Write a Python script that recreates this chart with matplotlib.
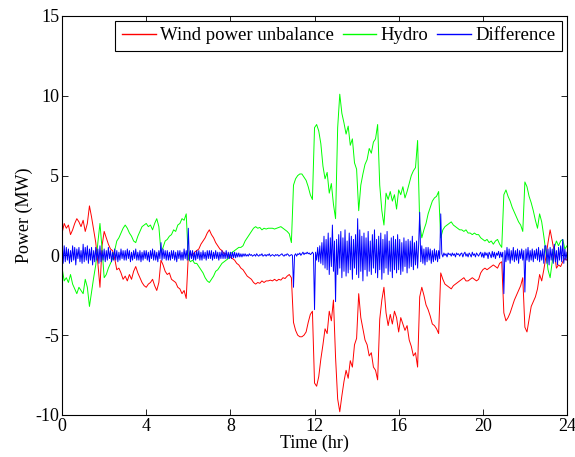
import numpy as np
import matplotlib.pyplot as plt

plt.rcParams['font.family'] = ['Liberation Serif', 'DejaVu Serif']
plt.rcParams['axes.unicode_minus'] = False

## time axis (hr), one sample every 0.1 hr for wind / hydro, 0.05 hr for difference
t_slow = np.arange(241) * 0.1
t_fast = np.arange(481) * 0.05

# wind power unbalance (MW)
wind = [
    1.4, 2.0, 1.7, 1.9, 1.3, 1.6, 2.0, 2.3, 2.1, 1.8,
    2.2, 1.5, 2.0, 3.1, 2.4, 1.6, 0.8, -0.5, -2.0, 0.6,
    1.5, 1.1, 0.7, 0.4, 0.3, -0.2, -0.9, -0.8, -1.1, -1.5,
    -1.3, -1.6, -1.2, -1.5, -1.0, -0.7, -1.1, -1.4, -1.7, -1.9,
    -2.0, -1.8, -1.7, -1.5, -1.9, -2.2, -1.7, -0.3, -0.6, -1.0,
    -1.2, -1.1, -1.5, -1.6, -1.7, -2.0, -2.1, -2.4, -2.2, -2.7,
    0.0, 0.1, 0.0, 0.2, 0.3, 0.4, 0.7, 0.9, 1.1, 1.4,
    1.6, 1.3, 1.1, 0.8, 0.6, 0.4, 0.3, 0.1, 0.1, -0.1,
    -0.1, -0.2, -0.3, -0.5, -0.6, -0.8, -0.9, -1.1, -1.3, -1.4,
    -1.5, -1.7, -1.8, -1.7, -1.75, -1.6, -1.7, -1.6, -1.6, -1.55,
    -1.6, -1.5, -1.6, -1.5, -1.55, -1.4, -1.45, -1.3, -1.2, -1.4,
    -4.2, -4.7, -5.0, -5.1, -5.1, -5.0, -4.8, -4.2, -3.7, -3.5,
    -8.0, -8.2, -7.6, -6.5, -5.6, -4.6, -4.9, -3.5, -4.1, -2.8,
    -6.4, -9.0, -9.8, -8.8, -7.9, -7.2, -7.7, -6.6, -7.0, -5.6,
    -5.2, -2.4, -3.9, -4.6, -5.3, -5.6, -6.3, -6.1, -7.0, -7.2,
    -7.8, -4.0, -2.8, -2.0, -3.6, -4.4, -3.7, -4.3, -3.5, -3.9,
    -4.8, -3.9, -4.3, -4.7, -4.4, -5.3, -5.7, -6.3, -6.1, -7.0,
    -2.6, -2.0, -2.5, -3.1, -3.4, -3.8, -4.3, -4.4, -4.6, -4.9,
    -1.1, -1.5, -1.8, -1.9, -2.0, -2.1, -1.9, -1.8, -1.7, -1.6,
    -1.5, -1.4, -1.6, -1.6, -1.5, -1.4, -1.5, -1.6, -1.5, -1.1,
    -0.9, -0.8, -0.9, -0.8, -0.7, -0.6, -0.7, -0.8, -0.5, -0.4,
    -3.6, -4.1, -3.9, -3.6, -3.2, -2.8, -2.5, -2.2, -1.9, -1.4,
    -4.5, -4.8, -4.0, -3.2, -2.9, -2.6, -2.1, -1.2, -1.6, -0.9,
    -0.1, 0.8, 1.6, 0.9, 0.2, -0.8, -0.6, -0.7, -0.4, -0.2,
    -0.3,
]

# hydro (MW)
hydro = [
    -0.8, -1.6, -1.4, -1.7, -1.2, -1.8, -2.1, -2.4, -2.0, -2.2,
    -2.4, -1.5, -2.0, -3.2, -2.3, -1.4, -0.6, 0.8, 2.0, 0.4,
    -1.4, -1.2, -0.8, -0.5, -0.2, 0.3, 0.9, 1.1, 1.4, 1.7,
    1.9, 1.7, 1.4, 1.2, 0.9, 0.8, 1.2, 1.5, 1.8, 1.9,
    2.0, 1.8, 1.9, 1.6, 2.0, 2.3, 1.8, 0.2, 0.5, 0.9,
    1.0, 1.2, 1.3, 1.6, 1.5, 1.9, 2.0, 2.3, 2.2, 2.6,
    -0.2, -0.4, -0.3, -0.5, -0.5, -0.7, -0.9, -1.1, -1.4, -1.6,
    -1.7, -1.5, -1.3, -1.0, -0.9, -0.7, -0.5, -0.4, -0.3, -0.2,
    0.1, 0.2, 0.3, 0.4, 0.5, 0.5, 0.6, 0.9, 1.1, 1.3,
    1.5, 1.7, 1.8, 1.7, 1.75, 1.6, 1.7, 1.65, 1.7, 1.7,
    1.7, 1.65, 1.7, 1.75, 1.8, 1.7, 1.6, 1.5, 1.35, 0.8,
    4.4, 4.8, 5.0, 5.1, 5.1, 4.9, 4.7, 4.3, 3.8, 3.5,
    8.0, 8.2, 7.8, 7.0, 5.6, 4.8, 5.2, 3.9, 4.5, 3.2,
    2.3, 8.0, 10.1, 8.9, 8.3, 7.6, 8.1, 6.9, 7.3, 5.8,
    5.4, 2.8, 4.4, 5.1, 5.7, 6.0, 6.7, 6.4, 7.1, 7.3,
    8.2, 4.4, 2.8, 1.9, 3.9, 3.5, 4.0, 3.4, 3.8, 2.9,
    4.1, 3.8, 4.3, 3.6, 4.0, 4.5, 5.0, 5.3, 5.5, 7.2,
    2.0, 1.1, 1.6, 2.0, 2.6, 3.0, 3.4, 3.6, 3.7, 4.0,
    1.1, 1.6, 1.8, 1.9, 2.0, 2.1, 1.9, 1.8, 1.7, 1.6,
    1.6, 1.5, 1.6, 1.4, 1.4, 1.3, 1.4, 1.3, 1.3, 1.1,
    1.0, 0.9, 1.0, 0.8, 0.9, 0.7, 0.9, 1.0, 0.7, 0.5,
    3.8, 4.1, 3.7, 3.4, 3.0, 2.7, 2.4, 2.1, 1.9, 1.5,
    4.6, 4.3, 3.7, 3.3, 2.8, 2.2, 1.7, 2.6, 2.1, 1.2,
    0.2, -0.9, -1.4, -0.4, 0.5, 0.9, 0.6, 0.9, 1.0, 0.4,
    0.6,
]

# difference (MW), 20 samples per hour
diff = [
    0.9, -0.5, 0.6, -0.4, 0.5, -0.3, 0.4, -0.5, 0.3, -0.4, 0.6, -0.3, 0.5, -0.6, 0.4, -0.2, 0.5, -0.4, 0.3, -0.5,
    0.7, -0.4, 0.5, -0.3, 0.6, -0.5, 0.4, -0.3, 0.5, -0.6, 0.3, -0.4, 0.5, -0.3, 0.4, -0.5, 0.6, -0.4, 0.3, -0.3,
    0.4, -0.4, 0.3, -0.3, 0.5, -0.2, 0.3, -0.4, 0.2, -0.3, 0.4, -0.3, 0.3, -0.4, 0.2, -0.3, 0.4, -0.2, 0.3, -0.3,
    0.3, -0.3, 0.4, -0.2, 0.3, -0.4, 0.2, -0.3, 0.3, -0.2, 0.4, -0.3, 0.2, -0.3, 0.3, -0.4, 0.2, -0.3, 0.3, -0.2,
    0.3, -0.3, 0.2, -0.4, 0.3, -0.2, 0.4, -0.3, 0.3, -0.3, 0.2, -0.4, 0.3, -0.2, 0.8, -0.3, 0.4, -0.2, 0.3, -0.3,
    0.3, -0.3, 0.2, -0.3, 0.3, -0.2, 0.3, -0.3, 0.2, -0.4, 0.3, -0.2, 0.3, -0.3, 0.2, -0.3, 0.4, -0.2, 0.3, -0.3,
    1.7, -0.3, 0.3, -0.2, 0.3, -0.3, 0.2, -0.3, 0.3, -0.2, 0.3, -0.3, 0.2, -0.3, 0.3, -0.2, 0.2, -0.3, 0.3, -0.2,
    0.3, -0.2, 0.3, -0.3, 0.2, -0.2, 0.3, -0.2, 0.2, -0.3, 0.2, -0.2, 0.3, -0.2, 0.2, -0.2, 0.3, -0.2, 0.2, -0.2,
    0.2, -0.2, 0.2, -0.15, 0.2, -0.15, 0.15, -0.1, 0.15, -0.1, 0.1, -0.1, 0.1, -0.05, 0.1, -0.05, 0.05, -0.05, 0.1, 0.0,
    0.05, -0.05, 0.0, 0.05, -0.05, 0.1, 0.0, -0.05, 0.05, 0.0, 0.1, -0.05, 0.0, 0.05, -0.05, 0.05, 0.0, 0.1, -0.05, 0.0,
    0.05, 0.0, -0.05, 0.05, 0.0, 0.05, -0.05, 0.0, 0.05, 0.1, 0.0, -0.05, 0.05, 0.0, 0.1, 0.05, -0.05, 0.0, 0.05, 0.0,
    -2.0, 0.0, 0.1, -0.05, 0.1, 0.05, 0.15, 0.0, 0.1, 0.2, 0.05, 0.15, 0.1, 0.2, 0.1, 0.15, 0.05, 0.1, 0.2, 0.1,
    -3.4, 0.2, -0.3, 0.5, -0.4, 0.6, -0.5, 0.8, -0.6, 1.2, -0.8, 1.0, -0.9, 1.4, -1.2, 1.1, -0.7, 1.9, -1.0, 0.9,
    -2.9, 1.0, -1.2, 1.3, -0.8, 1.5, -1.4, 1.1, -1.0, 1.6, -1.3, 0.9, -1.1, 1.4, -0.9, 1.2, -1.5, 1.0, -0.8, 1.3,
    -1.2, 2.3, -1.4, 1.6, -1.0, 1.2, -1.6, 1.4, -0.9, 1.1, -1.3, 1.5, -1.0, 0.9, -1.2, 1.3, -0.8, 1.6, -1.1, 1.0,
    -1.4, 1.2, -0.9, 1.4, -1.5, 1.0, -1.1, 1.3, -0.8, 1.5, -1.2, 0.9, -1.0, 1.1, -1.4, 1.2, -0.9, 1.0, -1.1, 1.3,
    -0.9, 1.0, -1.2, 0.8, -1.0, 1.1, -0.7, 0.9, -1.1, 1.0, -0.8, 0.9, -0.7, 1.2, -0.9, 0.8, -0.6, 0.9, -0.8, 0.7,
    2.7, -0.4, 0.6, -0.5, 0.4, -0.6, 0.5, -0.4, 0.5, -0.3, 0.4, -0.5, 0.3, -0.4, 0.4, -0.3, 0.3, -0.4, 0.3, -0.2,
    2.6, 0.1, -0.1, 0.15, 0.0, 0.1, -0.1, 0.15, 0.05, 0.1, -0.05, 0.15, 0.0, 0.1, -0.1, 0.15, 0.05, 0.1, -0.05, 0.1,
    0.15, -0.1, 0.1, 0.2, -0.05, 0.1, -0.1, 0.15, 0.05, -0.1, 0.2, 0.0, 0.1, -0.1, 0.15, 0.05, -0.05, 0.1, 0.2, -0.1,
    0.15, -0.15, 0.2, 0.0, 0.15, -0.2, 0.2, 0.05, -0.15, 0.25, -0.1, 0.2, -0.2, 0.15, 0.0, 0.25, -0.15, 0.2, -0.1, 0.2,
    -2.4, 0.3, -0.4, 0.5, -0.3, 0.4, -0.5, 0.3, -0.3, 0.5, -0.4, 0.3, -0.3, 0.4, -0.5, 0.3, -0.2, 0.4, -0.3, 0.3,
    -2.3, 0.4, -0.3, 0.5, -0.4, 0.3, -0.3, 0.4, -0.4, 0.3, -0.2, 0.4, -0.3, 0.5, -0.4, 0.3, -0.3, 0.4, -0.5, 0.6,
    0.6, -0.5, 0.4, -0.6, 0.5, -0.3, 0.4, -0.5, 0.7, -0.4, 0.3, -0.6, 0.5, -0.3, 0.6, -0.4, 1.0, -0.5, 0.4, -0.3,
    0.2,
]

x_ticks = [0, 4, 8, 12, 16, 20, 24]
y_ticks = [-10, -5, 0, 5, 10, 15]

fig = plt.figure(figsize=(5.75, 4.57), dpi=100)
ax = fig.add_axes([0.108, 0.092, 0.878, 0.873])

ax.plot(t_slow, wind, color='red', lw=0.7, label='Wind power unbalance')
ax.plot(t_slow, hydro, color='#00ff00', lw=0.7, label='Hydro')
ax.plot(t_fast, diff, color='blue', lw=0.7, label='Difference')

ax.set_xlim(0, 24)
ax.set_ylim(-10, 15)
ax.set_xticks(x_ticks)
ax.set_yticks(y_ticks)
ax.tick_params(direction='in', length=4, width=0.6, top=True, right=True, labelsize=13, pad=2)
for s in ax.spines.values():
    s.set_linewidth(0.8)

ax.set_xlabel('Time (hr)', fontsize=13, labelpad=0)
ax.set_ylabel('Power (MW)', fontsize=13, labelpad=2)

leg = ax.legend(loc='upper right', ncol=3, fontsize=13.5, fancybox=False, edgecolor='black',
                framealpha=1, borderaxespad=0.25, handlelength=1.8, handletextpad=0.25,
                columnspacing=0.45, borderpad=0.35)
leg.get_frame().set_linewidth(0.8)
for line in leg.get_lines():
    line.set_linewidth(1.0)

plt.savefig('out.png', dpi=100)
